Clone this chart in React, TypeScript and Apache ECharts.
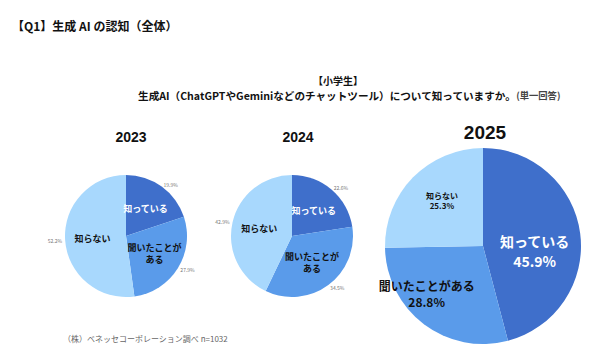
import React, { useEffect, useRef } from "react";
import * as echarts from "echarts";

const categories = ["知っている", "聞いたことがある", "知らない"];
const categoryLabels2 = ["知っている", "聞いたことが\nある", "知らない"];
const years = ["2023", "2024", "2025"];
const values2023 = [19.9, 27.9, 52.2];
const values2024 = [22.6, 34.5, 42.9];
const values2025 = [45.9, 28.8, 25.3];
const colors = ["#3F6FCB", "#5A9BEA", "#A8D8FD"];

const FONT = "'Noto Sans CJK JP', 'Noto Sans', sans-serif";
const NUMFONT = "'Liberation Sans', Arial, sans-serif";

export default function App() {
  const ref = useRef<HTMLDivElement>(null);
  useEffect(() => {
    if (!ref.current) return;
    const chart = echarts.init(ref.current, null, { renderer: "svg" });

    const smallPie = (vals: number[], cx: number, withName: boolean) => ({
      type: "pie",
      center: [cx, 236],
      radius: [0, 61],
      startAngle: 90,
      clockwise: true,
      silent: true,
      animation: false,
      label: withName
        ? {
            show: true,
            position: "inside",
            fontFamily: FONT,
            fontSize: 9,
            fontWeight: "bold",
            lineHeight: 12,
            formatter: (p: any) => categoryLabels2[p.dataIndex],
          }
        : {
            show: true,
            position: "outside",
            fontFamily: FONT,
            fontSize: 5,
            color: "#777",
            distanceToLabelLine: 0,
            formatter: (p: any) => p.value.toFixed(1) + "%",
          },
      labelLine: { show: false, length: 3, length2: 0 },
      data: vals.map((v, i) => ({
        name: categories[i],
        value: v,
        itemStyle: withName ? { color: colors[i] } : { color: "rgba(0,0,0,0)" },
        label: withName ? { color: i === 0 ? "#fff" : "#111" } : {},
      })),
    });

    const big25Styles = [
      { fontSize: 14, color: "#fff", lineHeight: 20 },
      { fontSize: 12, color: "#111", lineHeight: 16 },
      { fontSize: 8, color: "#111", lineHeight: 10 },
    ];
    const big25Offsets = [
      [0, 12],
      [-25, 6],
      [-4, -9],
    ];

    const yearStyle = (size: number) => ({
      fontFamily: NUMFONT,
      fontSize: size,
      fontWeight: "bold",
      color: "#111",
    });

    chart.setOption({
      animation: false,
      backgroundColor: "#fff",
      title: [
        {
          text: "【Q1】生成 AI の認知（全体）",
          left: 7,
          top: 14,
          textStyle: { fontFamily: FONT, fontSize: 12, fontWeight: "bold", color: "#111" },
        },
        {
          text: "【小学生】",
          left: 333,
          top: 70,
          textAlign: "center",
          textStyle: { fontFamily: FONT, fontSize: 10, fontWeight: "bold", color: "#111" },
        },
        {
          text: "{a|生成AI（ChatGPTやGeminiなどのチャットツール）について知っていますか。}{b|(単一回答)}",
          left: 344,
          top: 85,
          textAlign: "center",
          textStyle: {
            rich: {
              a: { fontFamily: FONT, fontSize: 10.6, fontWeight: "bold", color: "#111" },
              b: { fontFamily: FONT, fontSize: 9.3, color: "#444" },
            },
          },
        },
        { text: years[0], left: 126, top: 125, textAlign: "center", textStyle: yearStyle(14) },
        { text: years[1], left: 293, top: 125, textAlign: "center", textStyle: yearStyle(14) },
        { text: years[2], left: 480, top: 118, textAlign: "center", textStyle: yearStyle(19) },
        {
          text: "（株）ベネッセコーポレーション調べ n=1032",
          left: 58,
          top: 329,
          textStyle: { fontFamily: FONT, fontSize: 8, color: "#666", fontWeight: "normal" },
        },
      ],
      series: [
        smallPie(values2023, 126, true),
        smallPie(values2023, 126, false),
        smallPie(values2024, 292, true),
        smallPie(values2024, 292, false),
        {
          type: "pie",
          center: [483, 246],
          radius: [0, 98],
          startAngle: 90,
          clockwise: true,
          silent: true,
          label: {
            show: true,
            position: "inside",
            fontFamily: FONT,
            fontWeight: "bold",
            formatter: (p: any) => categories[p.dataIndex] + "\n" + p.value.toFixed(1) + "%",
          },
          labelLayout: (params: any) => ({
            dx: big25Offsets[params.dataIndex][0],
            dy: big25Offsets[params.dataIndex][1],
          }),
          labelLine: { show: false },
          data: values2025.map((v, i) => ({
            name: categories[i],
            value: v,
            itemStyle: { color: colors[i] },
            label: big25Styles[i],
          })),
        },
      ],
    });
    return () => chart.dispose();
  }, []);
  return (
    <div
      ref={ref}
      style={{ position: "absolute", left: 0, top: 0, width: 600, height: 363 }}
    />
  );
}
